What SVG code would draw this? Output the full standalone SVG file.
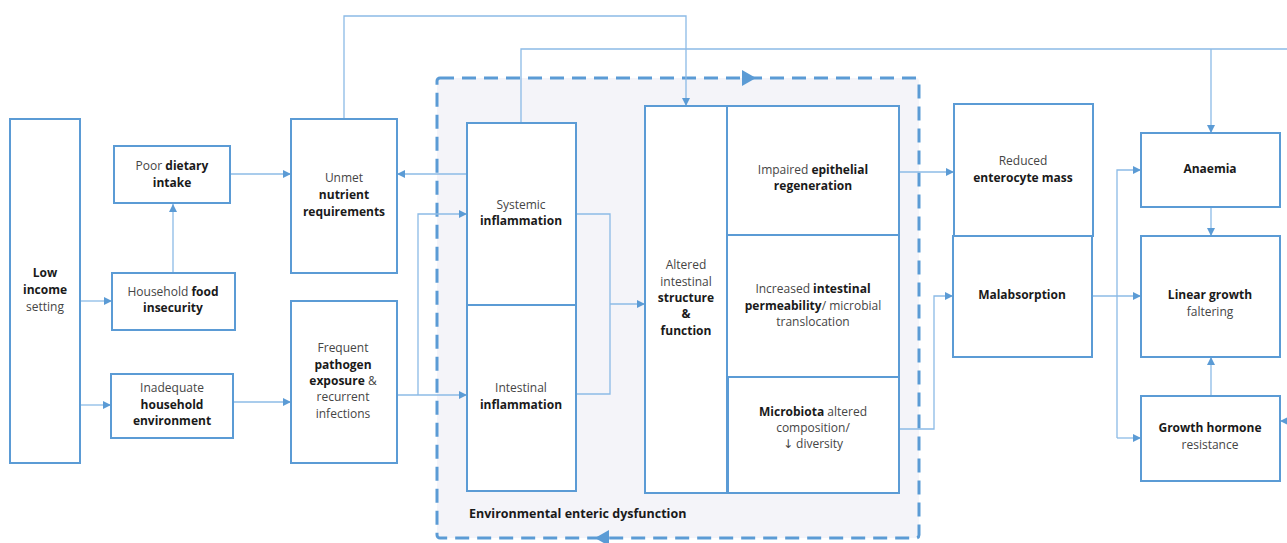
<svg xmlns="http://www.w3.org/2000/svg" width="1287" height="543" viewBox="0 0 1287 543">
<style>
  .box{fill:#ffffff;stroke:#5b9bd5;stroke-width:2}
  .con{fill:none;stroke:#8cbbe6;stroke-width:1.3}
  .t{font-family:"Open Sans","Noto Sans","DejaVu Sans",sans-serif;font-size:12px;fill:#454545;text-anchor:middle}
  .b{font-weight:bold;fill:#1a1a1a}
  .lbl{font-family:"Open Sans","Noto Sans","DejaVu Sans",sans-serif;font-size:12.5px;font-weight:bold;fill:#1a1a1a}
</style>
<defs>
  <marker id="ah" viewBox="0 0 10 10" refX="10" refY="5" markerWidth="8" markerHeight="8" orient="auto-start-reverse" markerUnits="userSpaceOnUse">
    <path d="M0,0 L10,5 L0,10 z" fill="#5b9bd5"/>
  </marker>
</defs>
<rect width="1287" height="543" fill="#ffffff"/>

<g id="eed">
  <rect x="437" y="78" width="482" height="460" rx="3" fill="#f4f4f9" stroke="#5b9bd5" stroke-width="3" stroke-dasharray="14 8"/>
  <polygon points="742,70 756,78 742,86" fill="#5b9bd5"/>
  <polygon points="609,530 595,538 609,546" fill="#5b9bd5"/>
  <text class="lbl" x="469" y="518">Environmental enteric dysfunction</text>
</g>

<g id="connectors">
  <path class="con" d="M173,273 V204" marker-end="url(#ah)"/>
  <path class="con" d="M80,301 H112" marker-end="url(#ah)"/>
  <path class="con" d="M80,405 H111" marker-end="url(#ah)"/>
  <path class="con" d="M230,174 H291" marker-end="url(#ah)"/>
  <path class="con" d="M233,402 H291" marker-end="url(#ah)"/>
  <path class="con" d="M467,174 H397" marker-end="url(#ah)"/>
  <path class="con" d="M397,395 H467" marker-end="url(#ah)"/>
  <path class="con" d="M418,395 V214 H467" marker-end="url(#ah)"/>
  <path class="con" d="M576,214 H610 V394 H576"/>
  <path class="con" d="M610,304 H645" marker-end="url(#ah)"/>
  <path class="con" d="M523,328 V285" marker-end="url(#ah)"/>
  <path class="con" d="M344,119 V16 H686 V106" marker-end="url(#ah)"/>
  <path class="con" d="M521,123 V49 H1287"/>
  <path class="con" d="M1211,49 V133" marker-end="url(#ah)"/>
  <path class="con" d="M1287,421 H1280" marker-end="url(#ah)"/>
  <path class="con" d="M817,218 V257" marker-start="url(#ah)" marker-end="url(#ah)"/>
  <path class="con" d="M817,335 V397" marker-start="url(#ah)" marker-end="url(#ah)"/>
  <path class="con" d="M899,172 H954" marker-end="url(#ah)"/>
  <path class="con" d="M899,429 H934 V296 H953" marker-end="url(#ah)"/>
  <path class="con" d="M1024,218 V261" marker-start="url(#ah)" marker-end="url(#ah)"/>
  <path class="con" d="M1092,296 H1141" marker-end="url(#ah)"/>
  <path class="con" d="M1117,438 V170 H1141" marker-end="url(#ah)"/>
  <path class="con" d="M1117,438 H1141" marker-end="url(#ah)"/>
  <path class="con" d="M1211,207 V236" marker-end="url(#ah)"/>
  <path class="con" d="M1211,396 V357" marker-end="url(#ah)"/>
</g>

<g id="low-income">
  <rect class="box" x="10" y="119" width="70" height="344"/>
  <text class="t" x="45" y="277"><tspan class="b">Low</tspan></text>
  <text class="t" x="45" y="294"><tspan class="b">income</tspan></text>
  <text class="t" x="45" y="311">setting</text>
</g>
<g id="poor-dietary">
  <rect class="box" x="114" y="146" width="116" height="57"/>
  <text class="t" x="172" y="170">Poor <tspan class="b">dietary</tspan></text>
  <text class="t" x="172" y="187"><tspan class="b">intake</tspan></text>
</g>
<g id="food-insecurity">
  <rect class="box" x="112" y="273" width="123" height="57"/>
  <text class="t" x="173" y="296">Household <tspan class="b">food</tspan></text>
  <text class="t" x="173" y="312"><tspan class="b">insecurity</tspan></text>
</g>
<g id="household-env">
  <rect class="box" x="111" y="374" width="122" height="64"/>
  <text class="t" x="172" y="392">Inadequate</text>
  <text class="t" x="172" y="409"><tspan class="b">household</tspan></text>
  <text class="t" x="172" y="425"><tspan class="b">environment</tspan></text>
</g>
<g id="unmet">
  <rect class="box" x="291" y="119" width="106" height="154"/>
  <text class="t" x="344" y="182">Unmet</text>
  <text class="t" x="344" y="199"><tspan class="b">nutrient</tspan></text>
  <text class="t" x="344" y="216"><tspan class="b">requirements</tspan></text>
</g>
<g id="pathogen">
  <rect class="box" x="291" y="301" width="106" height="162"/>
  <text class="t" x="343" y="352">Frequent</text>
  <text class="t" x="343" y="369"><tspan class="b">pathogen</tspan></text>
  <text class="t" x="343" y="385"><tspan class="b">exposure</tspan> &amp;</text>
  <text class="t" x="343" y="401">recurrent</text>
  <text class="t" x="343" y="418">infections</text>
</g>
<g id="systemic">
  <rect class="box" x="467" y="123" width="109" height="182"/>
  <text class="t" x="521" y="209">Systemic</text>
  <text class="t" x="521" y="225"><tspan class="b">inflammation</tspan></text>
</g>
<g id="intestinal">
  <rect class="box" x="467" y="305" width="109" height="186"/>
  <text class="t" x="521" y="392">Intestinal</text>
  <text class="t" x="521" y="409"><tspan class="b">inflammation</tspan></text>
</g>
<g id="altered">
  <rect class="box" x="645" y="106" width="82" height="387"/>
  <text class="t" x="686" y="269">Altered</text>
  <text class="t" x="686" y="286">intestinal</text>
  <text class="t" x="686" y="302"><tspan class="b">structure</tspan></text>
  <text class="t" x="686" y="318"><tspan class="b">&amp;</tspan></text>
  <text class="t" x="686" y="335"><tspan class="b">function</tspan></text>
</g>
<g id="epithelial">
  <rect class="box" x="727" y="106" width="172" height="129"/>
  <text class="t" x="813" y="174">Impaired <tspan class="b">epithelial</tspan></text>
  <text class="t" x="813" y="190"><tspan class="b">regeneration</tspan></text>
</g>
<g id="permeability">
  <rect class="box" x="727" y="235" width="172" height="142"/>
  <text class="t" x="813" y="293">Increased <tspan class="b">intestinal</tspan></text>
  <text class="t" x="813" y="310"><tspan class="b">permeability</tspan>/ microbial</text>
  <text class="t" x="813" y="326">translocation</text>
</g>
<g id="microbiota">
  <rect class="box" x="728" y="377" width="171" height="116"/>
  <text class="t" x="813" y="416"><tspan class="b">Microbiota</tspan> altered</text>
  <text class="t" x="813" y="432">composition/</text>
  <text class="t" x="813" y="448">↓ diversity</text>
</g>
<g id="enterocyte">
  <rect class="box" x="954" y="104" width="139" height="132"/>
  <text class="t" x="1023" y="165">Reduced</text>
  <text class="t" x="1023" y="182"><tspan class="b">enterocyte mass</tspan></text>
</g>
<g id="malabsorption">
  <rect class="box" x="953" y="236" width="139" height="121"/>
  <text class="t" x="1022" y="299"><tspan class="b">Malabsorption</tspan></text>
</g>
<g id="anaemia">
  <rect class="box" x="1141" y="133" width="139" height="74"/>
  <text class="t" x="1210" y="173"><tspan class="b">Anaemia</tspan></text>
</g>
<g id="linear-growth">
  <rect class="box" x="1141" y="236" width="139" height="121"/>
  <text class="t" x="1210" y="299"><tspan class="b">Linear growth</tspan></text>
  <text class="t" x="1210" y="316">faltering</text>
</g>
<g id="growth-hormone">
  <rect class="box" x="1141" y="396" width="139" height="85"/>
  <text class="t" x="1210" y="432"><tspan class="b">Growth hormone</tspan></text>
  <text class="t" x="1210" y="449">resistance</text>
</g>
</svg>
